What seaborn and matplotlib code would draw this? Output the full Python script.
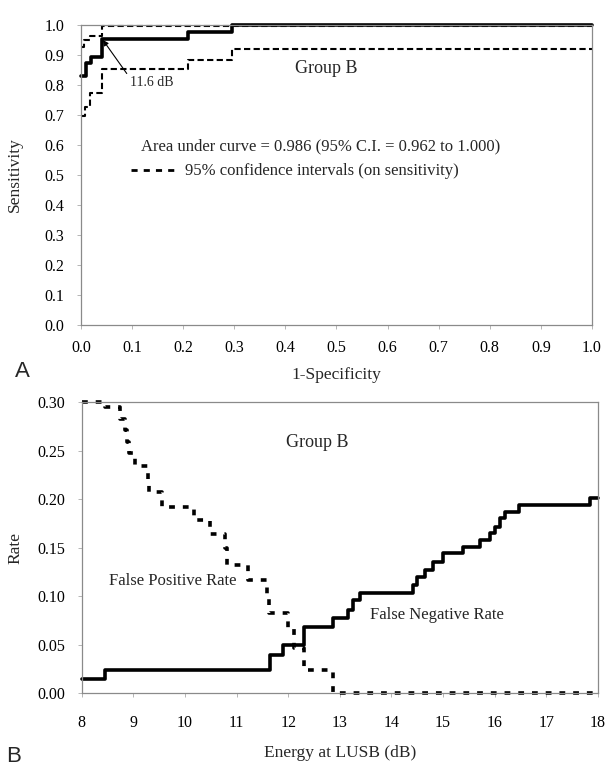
import matplotlib
matplotlib.use("Agg")
import matplotlib.pyplot as plt
import seaborn as sns
import pandas as pd
from matplotlib.lines import Line2D

# Panel A: ROC curve (step points, steps-post)
roc_fpr = [0.0, 0.010, 0.020, 0.041, 0.210, 0.295, 1.0]
roc_sens = [0.830, 0.874, 0.892, 0.955, 0.978, 1.000, 1.000]

ci_low_fpr = [0.0, 0.008, 0.018, 0.041, 0.210, 0.295, 1.0]
ci_low_sens = [0.697, 0.728, 0.772, 0.852, 0.885, 0.920, 0.920]

ci_up_fpr = [0.0, 0.006, 0.018, 0.041, 1.0]
ci_up_sens = [0.927, 0.950, 0.965, 0.998, 0.998]

# Panel B: error rates vs energy at LUSB
fnr_energy = [8.0, 8.45, 11.65, 11.9, 12.3, 12.87, 13.16, 13.25, 13.39, 14.42, 14.5,
              14.65, 14.81, 15.0, 15.39, 15.71, 15.91, 16.0, 16.1, 16.2, 16.46, 17.85, 18.0]
fnr_rate = [0.014, 0.024, 0.039, 0.050, 0.068, 0.077, 0.086, 0.096, 0.103, 0.111, 0.120,
            0.127, 0.135, 0.144, 0.151, 0.158, 0.165, 0.171, 0.180, 0.187, 0.194, 0.201, 0.201]

fpr_energy = [8.0, 8.45, 8.75, 8.83, 8.88, 8.92, 9.03, 9.28, 9.31, 9.55, 10.17, 10.48,
              10.78, 10.82, 11.23, 11.58, 11.62, 12.0, 12.12, 12.3, 12.87, 18.0]
fpr_rate = [0.300, 0.295, 0.283, 0.271, 0.259, 0.247, 0.234, 0.221, 0.207, 0.192, 0.178, 0.164,
            0.149, 0.132, 0.116, 0.099, 0.082, 0.066, 0.046, 0.024, 0.0, 0.0]

x_ticks_a = [round(0.1 * i, 1) for i in range(11)]
y_ticks_a = [round(0.1 * i, 1) for i in range(11)]
x_ticks_b = list(range(8, 19))
y_ticks_b = [0.0, 0.05, 0.10, 0.15, 0.20, 0.25, 0.30]

sns.set_theme(style="white")
plt.rcParams['font.family'] = ['Liberation Serif', 'DejaVu Serif']

fig = plt.figure(figsize=(6.07, 7.70), dpi=100)
ax1 = fig.add_axes([0.1334, 0.5779, 0.8418, 0.3896])
ax2 = fig.add_axes([0.1346, 0.1000, 0.8506, 0.3779])

ci_style = (0, (3, 1.6))

df_roc = pd.DataFrame({'fpr': roc_fpr, 'sens': roc_sens})
sns.lineplot(data=df_roc, x='fpr', y='sens', ax=ax1, color='black', lw=2.6,
             drawstyle='steps-post', sort=False, estimator=None, clip_on=False)
sns.lineplot(x=ci_low_fpr, y=ci_low_sens, ax=ax1, color='black', lw=1.5,
             linestyle=ci_style, drawstyle='steps-post', sort=False, estimator=None)
sns.lineplot(x=ci_up_fpr, y=ci_up_sens, ax=ax1, color='black', lw=1.5,
             linestyle=ci_style, drawstyle='steps-post', sort=False, estimator=None, clip_on=False)

ax1.set_xlim(0, 1.0)
ax1.set_ylim(0, 1.0)
ax1.set_xticks(x_ticks_a)
ax1.set_yticks(y_ticks_a)
ax1.set_xticklabels([f"{v:.1f}" for v in x_ticks_a])
ax1.set_yticklabels([f"{v:.1f}" for v in y_ticks_a])
ax1.set_xlabel('1-Specificity', fontsize=12.5)
ax1.set_ylabel('Sensitivity', fontsize=12.5)
ax1.xaxis.set_label_coords(0.5, -0.14)
ax1.yaxis.set_label_coords(-0.113, 0.5)

ax1.text(0.48, 0.855, 'Group B', fontsize=13, ha='center', va='center')
ax1.text(0.118, 0.595, 'Area under curve = 0.986 (95% C.I. = 0.962 to 1.000)',
         fontsize=12, ha='left', va='center')
ax1.legend(handles=[Line2D([], [], color='black', lw=2, linestyle=(0, (2.2, 2.2)))],
           labels=['95% confidence intervals (on sensitivity)'], frameon=False,
           loc='center left', bbox_to_anchor=(0.098, 0.512), fontsize=12,
           handlelength=2.7, handletextpad=0.55, borderpad=0, borderaxespad=0)
ax1.annotate('11.6 dB', xy=(0.043, 0.95), xytext=(0.096, 0.81), fontsize=10,
             ha='left', va='center',
             arrowprops=dict(arrowstyle='-|>', color='black', lw=0.8,
                             shrinkA=0, shrinkB=0, mutation_scale=8,
                             relpos=(0.0, 0.8)))

sns.lineplot(x=fnr_energy, y=fnr_rate, ax=ax2, color='black', lw=2.6,
             drawstyle='steps-post', sort=False, estimator=None, clip_on=False)
sns.lineplot(x=fpr_energy, y=fpr_rate, ax=ax2, color='black', lw=2.6,
             linestyle=(0, (1.6, 2.2)), drawstyle='steps-post', sort=False,
             estimator=None, clip_on=False)

ax2.set_xlim(8, 18)
ax2.set_ylim(0, 0.30)
ax2.set_xticks(x_ticks_b)
ax2.set_yticks(y_ticks_b)
ax2.set_yticklabels([f"{v:.2f}" for v in y_ticks_b])
ax2.set_xlabel('Energy at LUSB (dB)', fontsize=12.5)
ax2.set_ylabel('Rate', fontsize=12.5)
ax2.xaxis.set_label_coords(0.5, -0.178)
ax2.yaxis.set_label_coords(-0.112, 0.5)

ax2.text(12.57, 0.258, 'Group B', fontsize=13, ha='center', va='center')
ax2.text(9.77, 0.115, 'False Positive Rate', fontsize=12, ha='center', va='center')
ax2.text(14.88, 0.080, 'False Negative Rate', fontsize=12, ha='center', va='center')

for ax in (ax1, ax2):
    for sp in ax.spines.values():
        sp.set_visible(True)
        sp.set_color('#8a8a8a')
        sp.set_linewidth(0.9)
    ax.tick_params(axis='both', direction='out', length=3, width=0.6, color='#aaaaaa',
                   labelsize=11.5, labelcolor='black', bottom=True, left=True)
    ax.tick_params(axis='x', pad=8)
    ax.tick_params(axis='y', pad=9)
    ax.grid(False)
ax2.tick_params(axis='x', pad=13)

fig.text(22 / 607, 1 - 372 / 770, 'A', family='Liberation Sans', fontsize=16,
         ha='center', va='center')
fig.text(14 / 607, 1 - 767 / 770, 'B', family='Liberation Sans', fontsize=16,
         ha='center', va='bottom')

fig.savefig('out.png', dpi=100)
